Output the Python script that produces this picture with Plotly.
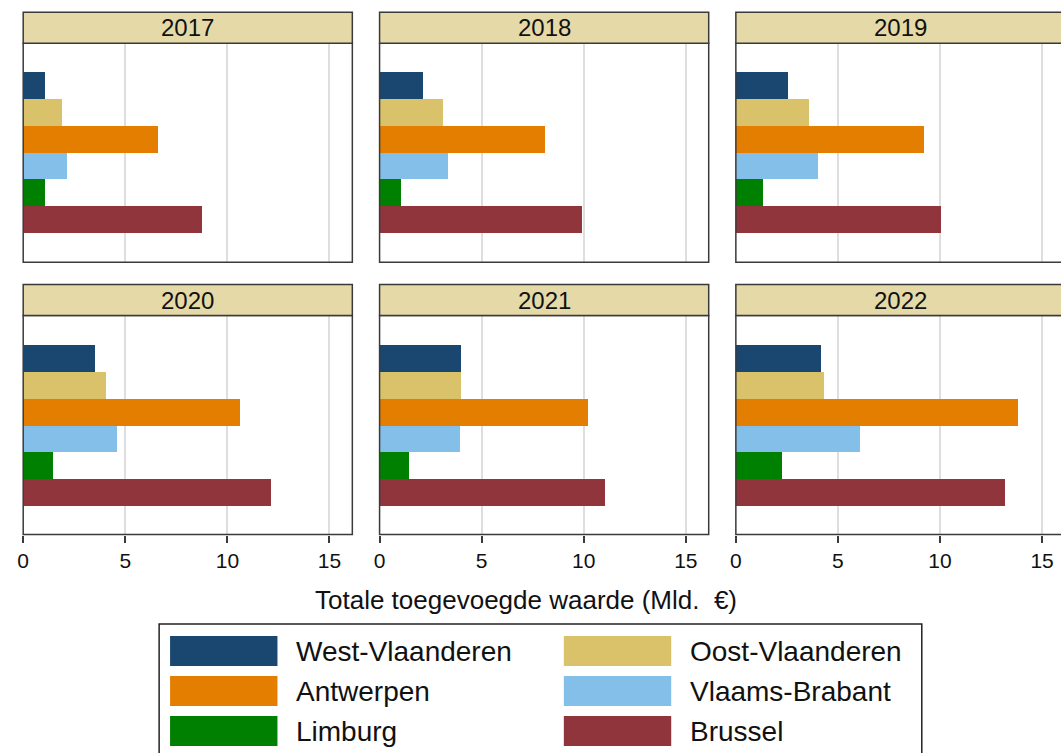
import plotly.graph_objects as go
from plotly.subplots import make_subplots

# Data
years = ["2017", "2018", "2019", "2020", "2021", "2022"]
regions = ["West-Vlaanderen", "Oost-Vlaanderen", "Antwerpen",
           "Vlaams-Brabant", "Limburg", "Brussel"]
colors = ["#1a476f", "#d9c26a", "#e37e00", "#83bfe8", "#008000", "#90353b"]

# totale toegevoegde waarde (Mld. euro), same order as regions
v2017 = [1.07, 1.93, 6.62, 2.16, 1.09, 8.78]
v2018 = [2.09, 3.09, 8.07, 3.33, 1.02, 9.90]
v2019 = [2.55, 3.59, 9.19, 4.04, 1.33, 10.03]
v2020 = [3.53, 4.05, 10.65, 4.61, 1.47, 12.15]
v2021 = [3.96, 3.99, 10.18, 3.93, 1.41, 11.04]
v2022 = [4.14, 4.33, 13.80, 6.09, 2.26, 13.17]
values = [v2017, v2018, v2019, v2020, v2021, v2022]

xticks = [0, 5, 10, 15]
x_title = "Totale toegevoegde waarde (Mld.  €)"

# page geometry (pixels)
W, H = 1061, 753
FONT = "Arial, Liberation Sans, sans-serif"
DARK = "#3a3a3a"


def px(x):
    return x / W


def py(y):
    return 1 - y / H


col_x = [(17.3, 348.3), (375.7, 706.7), (734.0, 1065.0)]
row_y = [(43.3, 262.3), (315.5, 534.5)]
strip_h = 31
xmax = 16.12

fig = make_subplots(rows=2, cols=3)

shapes = []
annotations = []

for i, year in enumerate(years):
    r, c = i // 3, i % 3
    fig.add_trace(go.Bar(
        x=values[i], y=regions, orientation="h",
        marker=dict(color=colors, line=dict(width=0)),
        width=1, showlegend=False,
        hovertemplate="%{y}: %{x}<extra>" + year + "</extra>",
    ), row=r + 1, col=c + 1)

    x0, x1 = col_x[c]
    y0, y1 = row_y[r]
    vis_x1 = min(x1, W)
    rng = xmax * (vis_x1 - x0) / (x1 - x0)

    fig.update_xaxes(
        domain=[px(x0), px(vis_x1)], range=[0, rng],
        tickvals=xticks, showgrid=True, gridcolor="#dedede", gridwidth=1.5,
        zeroline=False, showticklabels=(r == 1),
        ticks="outside" if r == 1 else "", ticklen=7, tickwidth=1.5,
        tickcolor=DARK, tickfont=dict(size=21, color="#111", family=FONT),
        row=r + 1, col=c + 1)
    fig.update_yaxes(
        domain=[py(y1), py(y0)], type="category",
        categoryorder="array", categoryarray=regions,
        range=[6.6, -1.6], showticklabels=False, ticks="",
        showgrid=False, zeroline=False,
        row=r + 1, col=c + 1)

    # panel border
    shapes.append(dict(type="rect", xref="paper", yref="paper",
                       x0=px(x0), x1=px(x1), y0=py(y1), y1=py(y0),
                       line=dict(color=DARK, width=1.5), layer="above"))
    # strip with year
    shapes.append(dict(type="rect", xref="paper", yref="paper",
                       x0=px(x0), x1=px(x1), y0=py(y0), y1=py(y0 - strip_h),
                       fillcolor="#e5d9a7", line=dict(color=DARK, width=1.5),
                       layer="above"))
    annotations.append(dict(x=px((x0 + x1) / 2), y=py(y0 - strip_h / 2),
                            xref="paper", yref="paper", text=year,
                            showarrow=False, xanchor="center", yanchor="middle",
                            font=dict(size=24, color="#111", family=FONT)))

# x axis title
annotations.append(dict(x=px(523), y=py(600), xref="paper", yref="paper",
                        text=x_title, showarrow=False,
                        xanchor="center", yanchor="middle",
                        font=dict(size=26, color="#111", family=FONT)))

# legend box, drawn by hand so the swatches can be wide
shapes.append(dict(type="rect", xref="paper", yref="paper",
                   x0=px(154), x1=px(921), y0=py(770), y1=py(624),
                   line=dict(color="#222", width=1.5), fillcolor="white",
                   layer="above"))
for i, name in enumerate(regions):
    lc, lr = i % 2, i // 2
    sx = [165, 561][lc]
    sy = 636 + 40 * lr
    shapes.append(dict(type="rect", xref="paper", yref="paper",
                       x0=px(sx), x1=px(sx + 108), y0=py(sy + 30), y1=py(sy),
                       fillcolor=colors[i], line=dict(width=0), layer="above"))
    annotations.append(dict(x=px([290, 686][lc]), y=py(sy + 15),
                            xref="paper", yref="paper", text=name,
                            showarrow=False, xanchor="left", yanchor="middle",
                            font=dict(size=28, color="#111", family=FONT)))

fig.update_layout(
    width=W, height=H,
    margin=dict(l=0, r=0, t=0, b=0),
    plot_bgcolor="white", paper_bgcolor="white",
    bargap=0,
    shapes=shapes, annotations=annotations,
    font=dict(family=FONT),
)

# the page's default body margin would push the fixed-size figure off-screen
fig.write_html("out.html",
               config={"displayModeBar": False},
               post_script="document.body.style.margin='0';"
                           "document.body.style.overflow='hidden';")
